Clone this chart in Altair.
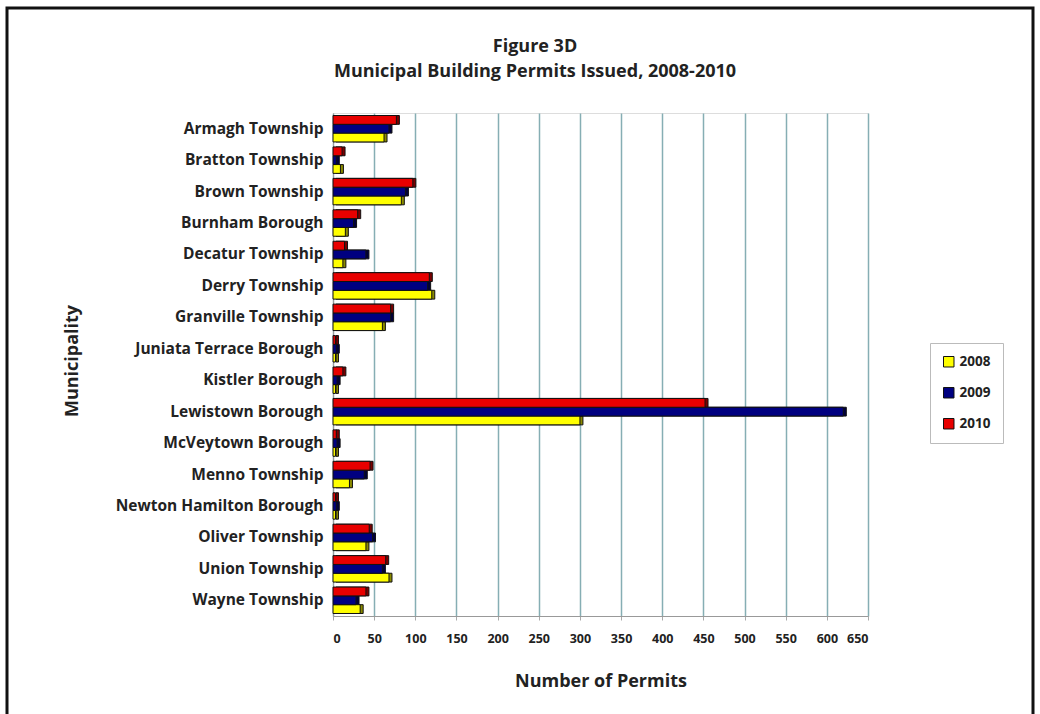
import altair as alt
import pandas as pd

municipalities = [
    "Armagh Township", "Bratton Township", "Brown Township", "Burnham Borough",
    "Decatur Township", "Derry Township", "Granville Township",
    "Juniata Terrace Borough", "Kistler Borough", "Lewistown Borough",
    "McVeytown Borough", "Menno Township", "Newton Hamilton Borough",
    "Oliver Township", "Union Township", "Wayne Township",
]
years = ["2008", "2009", "2010"]
v2008 = [62, 9, 83, 15, 12, 120, 60, 3, 3, 300, 3, 20, 3, 40, 68, 33]
v2009 = [68, 4, 88, 25, 40, 115, 70, 4, 5, 620, 5, 38, 4, 48, 60, 28]
v2010 = [77, 11, 97, 30, 14, 117, 70, 3, 12, 452, 4, 45, 3, 44, 64, 40]
x_ticks = list(range(0, 651, 50))
colors = ["#ffff00", "#000080", "#e80000"]
depth_colors = ["#8a8a00", "#00003a", "#7a0000"]
title_lines = ["Figure 3D", "Municipal Building Permits Issued, 2008-2010"]

rows = []
for yr, vals in zip(years, [v2008, v2009, v2010]):
    for m, v in zip(municipalities, vals):
        rows.append({"Municipality": m, "Year": yr, "Permits": v})
df = pd.DataFrame(rows)

FONT = "Open Sans"
L, T = 333, 113
W, H = 535, 503

x_enc = alt.X("Permits:Q",
              scale=alt.Scale(domain=[0, 650], nice=False),
              axis=alt.Axis(values=x_ticks, title="Number of Permits",
                            labelFont=FONT, labelFontWeight="bold", labelFontSize=12.5,
                            labelColor="#222222", labelPadding=12,
                            titleFont=FONT, titleFontWeight="bold", titleFontSize=18,
                            titleColor="#222222", titlePadding=28,
                            grid=True, gridColor="#86aeb4", gridWidth=1.5,
                            domainColor="#999999", tickColor="#aaaaaa", tickSize=4))
y_enc = alt.Y("Municipality:N", sort=municipalities,
              scale=alt.Scale(paddingInner=0.16, paddingOuter=0.08),
              axis=alt.Axis(title="Municipality",
                            labelFont=FONT, labelFontWeight="bold", labelFontSize=15.5,
                            labelColor="#222222", labelPadding=10, ticks=False,
                            labelLimit=400,
                            titleFont=FONT, titleFontWeight="bold", titleFontSize=18,
                            titleColor="#222222", titleAngle=-90,
                            titleX=72 - L, titleY=H / 2 - 4,
                            titleAlign="center", titleBaseline="middle",
                            domainColor="#999999", grid=False))
yoff_enc = alt.YOffset("Year:N", sort=["2010", "2009", "2008"])

depth = alt.Chart(df).mark_bar(stroke="#111111", strokeWidth=1, xOffset=3, yOffset=-3).encode(
    x=x_enc, y=y_enc, yOffset=yoff_enc,
    color=alt.Color("Year:N", sort=years,
                    scale=alt.Scale(domain=years, range=depth_colors), legend=None),
)

bars = alt.Chart(df).mark_bar(stroke="#111111", strokeWidth=1).encode(
    x=x_enc, y=y_enc, yOffset=yoff_enc,
    fill=alt.Fill("Year:N", sort=years,
                  scale=alt.Scale(domain=years, range=colors),
                  legend=alt.Legend(title=None, orient="none",
                                    legendX=930 - L, legendY=343 - T,
                                    symbolType="square", symbolSize=110,
                                    symbolStrokeColor="#111111", symbolStrokeWidth=1,
                                    labelFont=FONT, labelFontWeight="bold",
                                    labelFontSize=13.5, labelColor="#222222",
                                    rowPadding=16, padding=12,
                                    strokeColor="#bbbbbb", fillColor="white")),
)

frame_df = pd.DataFrame({"k": [0]})
frame = alt.Chart(frame_df).mark_rect(filled=False, stroke="#111111", strokeWidth=3).encode(
    x=alt.value(7 - L), x2=alt.value(1033 - L),
    y=alt.value(8 - T), y2=alt.value(730 - T),
)

title1 = alt.Chart(frame_df).mark_text(
    font=FONT, fontWeight="bold", fontSize=18, color="#222222",
    align="center", baseline="middle",
).encode(x=alt.value(535 - L), y=alt.value(47 - T), text=alt.value(title_lines[0]))

title2 = alt.Chart(frame_df).mark_text(
    font=FONT, fontWeight="bold", fontSize=18, color="#222222",
    align="center", baseline="middle",
).encode(x=alt.value(535 - L), y=alt.value(72 - T), text=alt.value(title_lines[1]))

chart = alt.layer(depth, bars, frame, title1, title2).resolve_scale(
    color="independent"
).properties(
    width=W, height=H,
    autosize=alt.AutoSizeParams(type="none"),
    padding={"left": L, "top": T, "right": 1040 - L - W, "bottom": 714 - T - H},
).configure_view(
    fill="#c8fafa", stroke="#999999", strokeWidth=1
).configure(background="white")

chart.save("out.html", embed_options={"renderer": "svg", "actions": False})
